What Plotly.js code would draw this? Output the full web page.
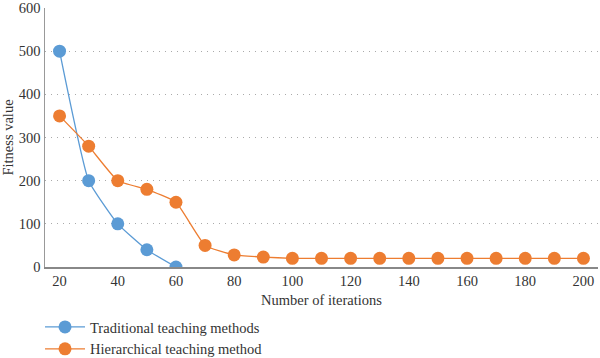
<!DOCTYPE html>
<html><head><meta charset="utf-8">
<script src="https://cdn.plot.ly/plotly-3.0.1.min.js"></script>
<style>html,body{margin:0;padding:0;background:#fff}#chart{width:600px;height:358px}</style>
</head><body><div id="chart"></div>
<script>
const iterations = [20,30,40,50,60,70,80,90,100,110,120,130,140,150,160,170,180,190,200];
const traditionalX = [20,30,40,50,60];
const traditionalY = [500,200,100,40,0];
const hierarchicalY = [350,280,200,180,150,50,28,23,20,20,20,20,20,20,20,20,20,20,20];
const xTicks = [20,40,60,80,100,120,140,160,180,200];
const yTicks = [0,100,200,300,400,500,600];

const fam = '"Liberation Serif", "DejaVu Serif", serif';
const font = {family: fam, size: 14.5, color: '#333'};
const data = [
  {x: traditionalX, y: traditionalY, name: 'Traditional teaching methods', mode: 'lines+markers',
   line: {color: '#5B9BD5', width: 1.3, shape: 'spline', smoothing: 0.4},
   marker: {color: '#5B9BD5', size: 13}},
  {x: iterations, y: hierarchicalY, name: 'Hierarchical teaching method', mode: 'lines+markers',
   line: {color: '#ED7D31', width: 1.3, shape: 'spline', smoothing: 0.4},
   marker: {color: '#ED7D31', size: 13}}
];
const layout = {
  width: 600, height: 358,
  margin: {l: 45, r: 2, t: 8, b: 91, autoexpand: false},
  paper_bgcolor: '#fff', plot_bgcolor: '#fff',
  font: font,
  showlegend: true,
  legend: {orientation: 'v', x: -0.009, xanchor: 'left',
           y: -0.17, yanchor: 'top', font: font, tracegroupgap: 0, itemwidth: 40,
           bgcolor: 'rgba(0,0,0,0)'},
  xaxis: {range: [15, 205], tickvals: xTicks, ticktext: xTicks.map(String), showgrid: false,
          showline: true, linecolor: '#888', linewidth: 2, ticks: '', zeroline: false,
          title: {text: 'Number of iterations', font: font, standoff: 6},
          tickfont: font},
  yaxis: {range: [0, 600], tickvals: yTicks, showgrid: true, gridcolor: '#aaa', griddash: '1px,5px', gridwidth: 1,
          showline: true, linecolor: '#999', linewidth: 1.5, ticks: '', zeroline: false,
          title: {text: 'Fitness value', font: font, standoff: 6},
          tickfont: font}
};
Plotly.newPlot('chart', data, layout, {displayModeBar: false, staticPlot: true});
</script></body></html>
